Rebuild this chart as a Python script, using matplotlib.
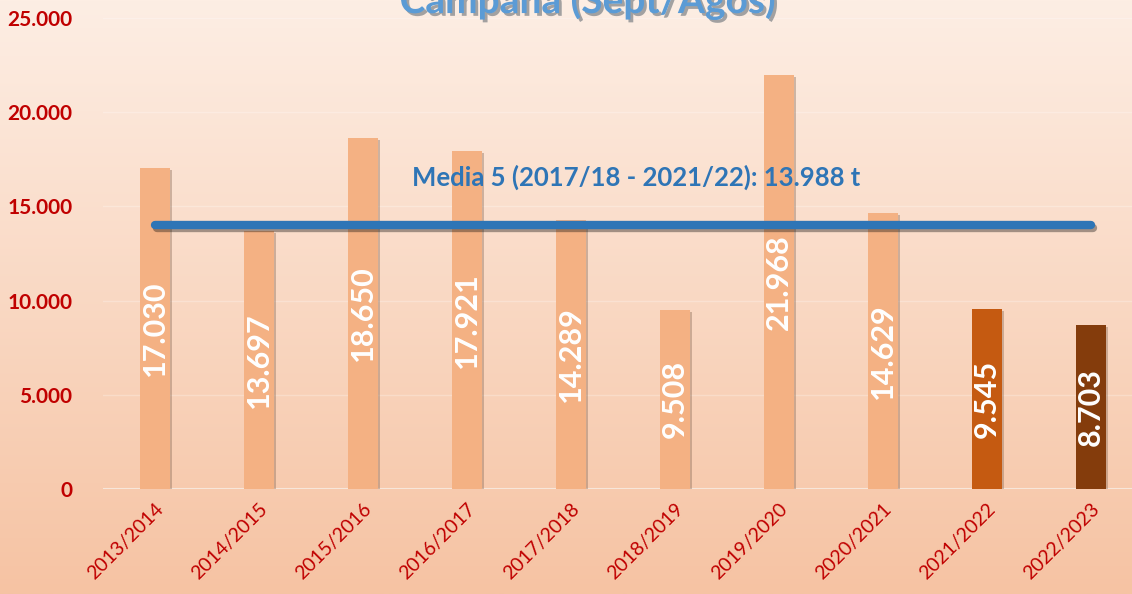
import numpy as np
import matplotlib
matplotlib.use('Agg')
import matplotlib.pyplot as plt
import matplotlib.patheffects as pe

# campaign data (t)
campanas = ['2013/2014', '2014/2015', '2015/2016', '2016/2017', '2017/2018',
            '2018/2019', '2019/2020', '2020/2021', '2021/2022', '2022/2023']
valores = [17030, 13697, 18650, 17921, 14289, 9508, 21968, 14629, 9545, 8703]
colores = ['#F4B183'] * 8 + ['#C55A11', '#843C0C']
media = 13988
media_txt = 'Media 5 (2017/18 - 2021/22): 13.988 t'
titulo = 'Campaña (Sept/Agos)'
yticks = [0, 5000, 10000, 15000, 20000, 25000]


def fmt(v):
    return '{:,}'.format(v).replace(',', '.')


plt.rcParams['font.family'] = ['Lato', 'DejaVu Sans']

fig = plt.figure(figsize=(11.32, 5.94), dpi=100)

# background gradient
bg = fig.add_axes([0, 0, 1, 1])
top = np.array([253, 238, 228]) / 255.
bot = np.array([246, 195, 163]) / 255.
t = np.linspace(0, 1, 256)[:, None]
grad = (top[None, :] * (1 - t) + bot[None, :] * t)[:, None, :]
bg.imshow(grad, aspect='auto', extent=[0, 1, 0, 1])
bg.axis('off')

ax = fig.add_axes([0.091, 0.1768, 0.909, 0.7929])
ax.patch.set_alpha(0)
x = np.arange(len(campanas))

bars = ax.bar(x, valores, width=0.29, color=colores, zorder=3)
for b in bars:
    b.set_path_effects([pe.SimplePatchShadow(offset=(1.5, -1.5), shadow_rgbFace='#8a6a55', alpha=0.4),
                        pe.Normal()])

for xi, v in zip(x, valores):
    ax.text(xi, v / 2, fmt(v), rotation=90, ha='center', va='center',
            color='white', fontsize=22, fontweight='bold', zorder=5)

# 5-season mean
ax.plot([x[0], x[-1]], [media, media], color='#2E75B6', lw=6,
        solid_capstyle='round', zorder=4,
        path_effects=[pe.SimpleLineShadow(offset=(1.5, -2), alpha=0.35), pe.Normal()])
ax.text(4.625, 16560, media_txt, ha='center', va='center', color='#2E75B6',
        fontsize=18.5, fontweight='bold', zorder=6)

ax.set_xlim(-0.5, 9.394)
ax.set_ylim(0, 25000)
ax.set_yticks(yticks)
ax.set_yticklabels([fmt(v) for v in yticks], color='#C00000', fontsize=15,
                   fontweight='bold')
ax.set_xticks(x)
ax.set_xticklabels(campanas, rotation=45, ha='right', rotation_mode='anchor',
                   color='#C00000', fontsize=14)
ax.tick_params(axis='both', length=0)
ax.yaxis.set_tick_params(pad=22)
ax.tick_params(axis='x', pad=8)

ax.grid(axis='y', color='white', alpha=0.25, lw=1, zorder=0)
for s in ax.spines.values():
    s.set_visible(False)
ax.axhline(0, color='#F7E6DA', lw=1.5, zorder=2)

fig.text(0.519, 0.978, titulo, ha='center', va='baseline', color='#5B9BD5',
         fontsize=28, fontweight='bold',
         path_effects=[pe.withSimplePatchShadow(offset=(2, -2), alpha=0.4)])

fig.savefig('out.png', dpi=100)
